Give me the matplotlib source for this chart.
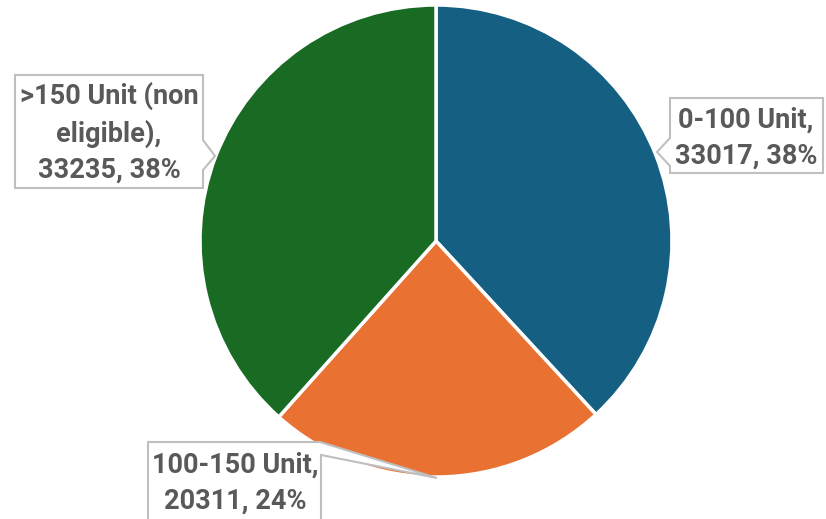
import matplotlib
matplotlib.use("Agg")
import matplotlib.pyplot as plt
from matplotlib.patches import Polygon

categories = ["0-100 Unit", "100-150 Unit", ">150 Unit (non\neligible)"]
values = [33017, 20311, 33235]
percents = [38, 24, 38]
colors = ["#156082", "#E97132", "#196B24"]

W, H = 826, 519
fig = plt.figure(figsize=(W / 100, H / 100), dpi=100)
ax = fig.add_axes([0, 0, 1, 1])

cx, cy, r = 436, H - 241, 236
ax.pie(values, colors=colors, startangle=90, counterclock=False,
       center=(cx, cy), radius=r,
       wedgeprops=dict(edgecolor="white", linewidth=2.5))
ax.set_xlim(0, W)
ax.set_ylim(0, H)
ax.set_aspect("equal")
ax.axis("off")

labels = [f"{c},\n{v}, {p}%" for c, v, p in zip(categories, values, percents)]


def callout(pts, text, tx, ty):
    # pts given in image pixel coords (y down)
    poly = Polygon([(x, H - y) for x, y in pts], closed=True,
                   facecolor="white", edgecolor="#BFBFBF", linewidth=1.5, zorder=3)
    ax.add_patch(poly)
    ax.text(tx, H - ty, text, ha="center", va="center", fontsize=19.5,
            fontweight="bold", color="#595959", family="Roboto",
            linespacing=1.42, zorder=4)


# 0-100 Unit (tail on left)
callout([(670, 98), (823, 98), (823, 173), (670, 173), (670, 166),
         (657, 152), (670, 138)], labels[0], 746, 138)
# 100-150 Unit (tail from top-right corner)
callout([(148, 442), (320, 442), (437, 478), (321, 455), (321, 530),
         (148, 530)], labels[1], 235, 483)
# >150 Unit (tail on right)
callout([(15, 75), (203, 75), (203, 140), (215, 156), (203, 170),
         (203, 188), (15, 188)], labels[2], 109, 133)

fig.savefig("out.png", dpi=100)
